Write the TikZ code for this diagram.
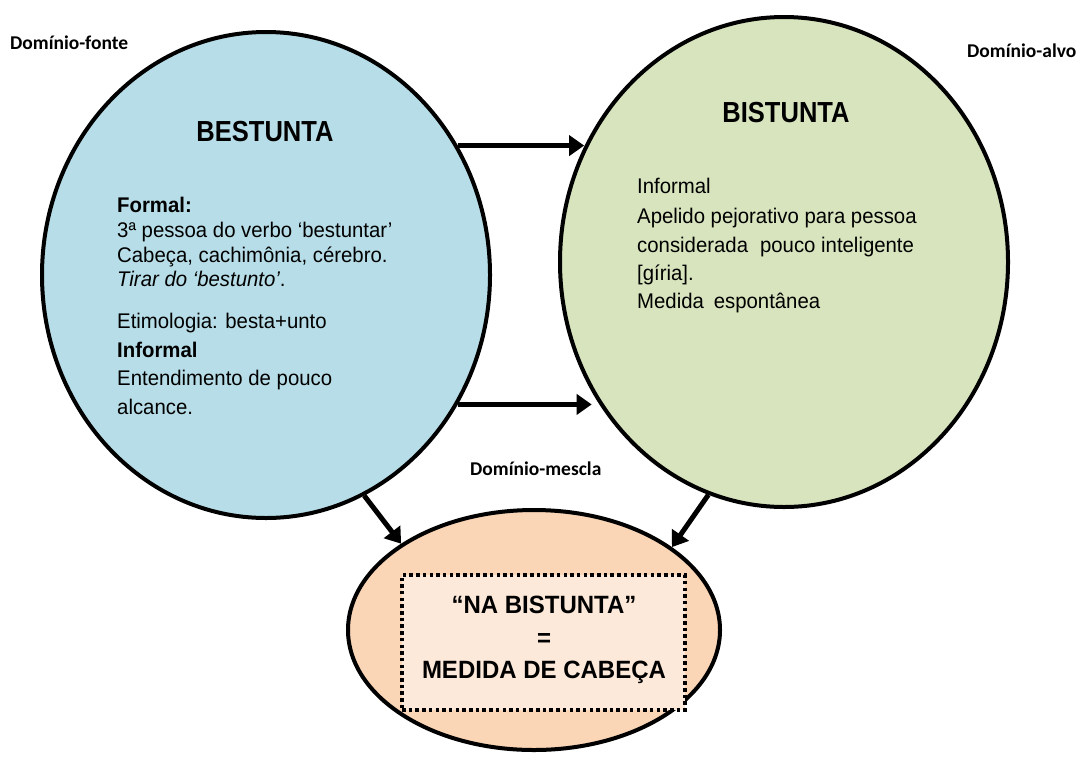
\documentclass[tikz,border=0pt]{standalone}
\usepackage{fontspec}
\setmainfont{Liberation Sans}[FakeStretch=0.96]
\newfontfamily\titlefont{Liberation Sans}[FakeStretch=0.88]
\newfontfamily\calib{Carlito}
\usetikzlibrary{shapes.geometric,arrows.meta}

\definecolor{cblue}{HTML}{B7DEE8}
\definecolor{cgreen}{HTML}{D7E4BD}
\definecolor{cpeach}{HTML}{FAD5B6}
\definecolor{cpeachl}{HTML}{FDE9DA}

\begin{document}
\begin{tikzpicture}[x=1pt,y=-1pt,
 dom/.style={ellipse, draw=black, line width=4pt, inner sep=0pt},
 arr/.style={line width=5pt, -{Triangle[length=15pt,width=20pt]}},
 lbl/.style={font=\calib\bfseries\fontsize{19.5}{22}\selectfont, inner sep=0pt, anchor=base west},
 title/.style={font=\titlefont\bfseries\fontsize{29}{32}\selectfont, inner sep=0pt, anchor=base},
 txt/.style={font=\fontsize{21.2}{24}\selectfont, anchor=base west, inner sep=0pt},
 big/.style={font=\bfseries\fontsize{25}{28}\selectfont, anchor=base, inner sep=0pt}]
\useasboundingbox (0,0) rectangle (1078,756);

% domains
\node[dom, fill=cblue, minimum width=448pt, minimum height=486pt] (L) at (266,275) {};
\node[dom, fill=cgreen, minimum width=448pt, minimum height=490pt] (R) at (784,262) {};
\node[dom, fill=cpeach, minimum width=372pt, minimum height=240pt] (B) at (534,630) {};
\node[draw=black, line width=3.5pt, dash pattern=on 3.5pt off 3.2pt, fill=cpeachl,
      minimum width=283pt, minimum height=135pt, inner sep=0pt] (box) at (543.5,642.5) {};

% arrows
\draw[arr] (L.34.5) -- (R.150 |- L.34.5);
\draw[arr] (L.-34) -- (R.-146 |- L.-34);
\draw[arr] (L.-66.1) -- (B.147.2);
\draw[arr] (R.-108.9) -- (B.31);

% labels
\node[lbl] (lf) at (10,49) {Domínio-fonte};
\node[lbl] (la) at (967,57) {Domínio-alvo};
\node[lbl] (lm) at (470,475) {Domínio-mescla};

% titles
\node[title] (t1) at (265,141) {BESTUNTA};
\node[title] (t2) at (786,122) {BISTUNTA};

% left text
\node[txt] (l1) at (117,212) {\bfseries Formal:};
\node[txt] (l2) at (117,237) {3ª pessoa do verbo ‘bestuntar’};
\node[txt] (l3) at (117,262) {Cabeça, cachimônia, cérebro.};
\node[txt] (l4) at (117,286) {{\itshape Tirar do ‘bestunto’}.};
\node[txt] (l5) at (117,328) {Etimologia: besta+unto};
\node[txt] (l6) at (117,357) {\bfseries Informal};
\node[txt] (l7) at (117,385) {Entendimento de pouco};
\node[txt] (l8) at (117,414) {alcance.};

% right text
\node[txt] (r1) at (637,193) {Informal};
\node[txt] (r2) at (637,223) {Apelido pejorativo para pessoa};
\node[txt] (r3) at (637,252) {considerada\hspace{0.3em} pouco inteligente};
\node[txt] (r4) at (637,280) {[gíria].};
\node[txt] (r5) at (637,308) {Medida\hspace{0.2em} espontânea};

% blend text
\node[big] (b1) at (544,613) {“NA BISTUNTA”};
\node[big] (b2) at (544,646) {=};
\node[big] (b3) at (544,678) {MEDIDA DE CABEÇA};
\end{tikzpicture}
\end{document}
